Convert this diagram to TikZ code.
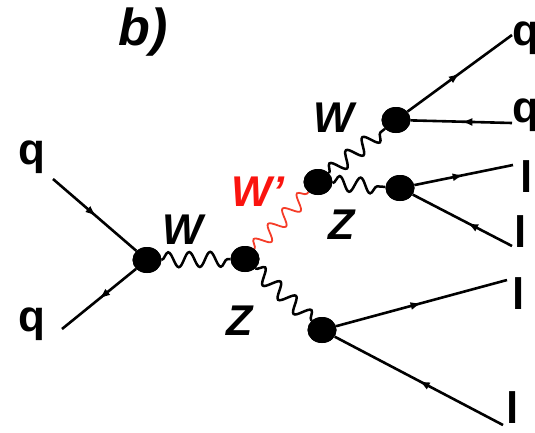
\documentclass[tikz,border=0pt]{standalone}
\usepackage{fontspec}
\setmainfont{Liberation Sans}
\usetikzlibrary{decorations.pathmorphing,decorations.markings,arrows.meta,shapes.geometric}
\definecolor{wred}{RGB}{250,20,15}
\definecolor{wline}{RGB}{245,60,40}
\begin{document}
\begin{tikzpicture}[x=1pt,y=-1pt,
  vtx/.style={ellipse,fill=black,minimum width=29pt,minimum height=26pt,inner sep=0pt},
  fwd/.style={line width=2.6pt,postaction={decorate},
    decoration={markings,mark=at position #1 with {\arrow{Latex[length=11pt,width=8pt]}}}},
  bwd/.style={line width=2.6pt,postaction={decorate},
    decoration={markings,mark=at position #1 with {\arrowreversed{Latex[length=11pt,width=8pt]}}}},
  photon/.style={line width=2.5pt,decorate,decoration={snake,segment length=21pt,amplitude=7.5pt}},
  wphoton/.style={photon,draw=wline,line width=1.8pt},
  lab/.style={inner sep=0pt,font=\fontsize{44}{50}\selectfont\bfseries},
  blab/.style={inner sep=0pt,font=\fontsize{43}{50}\selectfont\bfseries\itshape}]
\useasboundingbox (0,0) rectangle (535,432);
% vertices
\node[vtx] (v1) at (147,260) {};
\node[vtx] (v2) at (245,259) {};
\node[vtx] (v3) at (318,182) {};
\node[vtx] (v4) at (396,120) {};
\node[vtx] (v5) at (400,188) {};
\node[vtx] (v6) at (322,330) {};
% free ends
\coordinate (a1) at (53,179);
\coordinate (a2) at (62,329);
\coordinate (b1) at (512,35);
\coordinate (b2) at (512,123);
\coordinate (c1) at (513,165);
\coordinate (c2) at (512,246);
\coordinate (d1) at (507,280);
\coordinate (d2) at (503,425);
% fermions
\draw[fwd=0.52] (a1) -- (v1);
\draw[fwd=0.5] (v1) -- (a2);
\draw[fwd=0.5] (v4) -- (b1);
\draw[bwd=0.5] (v4) -- (b2);
\draw[fwd=0.5] (v5) -- (c1);
\draw[bwd=0.55] (v5) -- (c2);
\draw[fwd=0.5] (v6) -- (d1);
\draw[bwd=0.5] (v6) -- (d2);
% bosons
\draw[photon] (v1) -- (v2);
\draw[wphoton] (v2) -- (v3);
\draw[photon] (v3) -- (v4);
\draw[photon] (v3) -- (v5);
\draw[photon] (v2) -- (v6);
% redraw vertices on top
\foreach \v in {v1,v2,v3,v4,v5,v6} \fill (\v) ellipse (14.5pt and 13pt);
% labels
\node[inner sep=0pt,font=\fontsize{52}{58}\selectfont\bfseries\itshape] (tb) at (143,32) {b)};
\node[lab] (lq1) at (32,157) {q};
\node[lab] (lq2) at (32,324) {q};
\node[lab,anchor=west] (lq3) at (512,38) {q};
\node[lab,anchor=west] (lq4) at (512,115) {q};
\node[lab] (ll1) at (527,177) {l};
\node[lab] (ll2) at (521,232) {l};
\node[lab] (ll3) at (519,294) {l};
\node[lab] (ll4) at (513,408) {l};
\node[blab] (lw1) at (183,230) {W};
\node[blab] (lw2) at (334,118) {W};
\node[blab,text=wred] (lwp) at (258,192) {W'};
\node[blab] (lz1) at (342,225) {Z};
\node[blab] (lz2) at (240,321) {Z};
\end{tikzpicture}
\end{document}
